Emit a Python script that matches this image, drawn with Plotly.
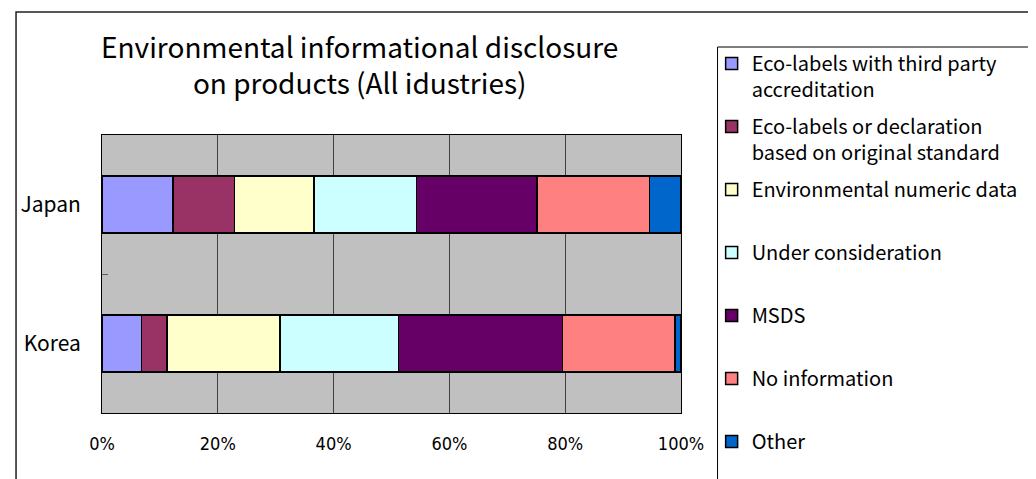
import plotly.graph_objects as go

categories = ["Japan", "Korea"]
series_names = [
    "Eco-labels with third party<br>accreditation",
    "Eco-labels or declaration<br>based on original standard",
    "Environmental numeric data<br>&nbsp;",
    "Under consideration<br>&nbsp;",
    "MSDS<br>&nbsp;",
    "No information<br>&nbsp;",
    "Other<br>&nbsp;",
]
series_values = [
    [12.3, 6.8],
    [10.6, 4.4],
    [13.7, 19.5],
    [17.7, 20.5],
    [20.8, 28.3],
    [19.5, 19.5],
    [5.4, 1.0],
]
series_colors = ["#9999FF", "#993366", "#FFFFCC", "#CCFFFF", "#660066", "#FF8080", "#0066CC"]
tick_vals = [0, 20, 40, 60, 80, 100]
tick_text = ["0%", "20%", "40%", "60%", "80%", "100%"]

OFF = 8  # page body margin
W, H = 1036, 479
L, R, T, B = 95 - OFF, 681 - OFF, 135 - OFF, 413 - OFF  # plot area in figure pixels

def px(x):
    return (x - OFF - L) / (R - L)

def py(y):
    return (B - (y - OFF)) / (B - T)

FONT = "Noto Sans CJK JP"

fig = go.Figure()
for i, (name, vals, col) in enumerate(zip(series_names, series_values, series_colors)):
    fig.add_trace(go.Bar(
        y=categories, x=vals, name=name, orientation="h",
        marker=dict(color=col, line=dict(color="black", width=1.5)),
        width=0.41, legendgroup=f"g{i}",
    ))

fig.update_layout(
    width=W, height=H,
    margin=dict(l=L, r=W - R, t=T, b=H - B),
    barmode="stack",
    plot_bgcolor="#C0C0C0",
    paper_bgcolor="white",
    font=dict(family=FONT, size=20, color="black"),
    showlegend=True,
    legend=dict(
        x=px(712), y=py(55), xanchor="left", yanchor="top",
        traceorder="grouped", tracegroupgap=8, valign="top",
        font=dict(family=FONT, size=20),
        bgcolor="rgba(0,0,0,0)", maxheight=2000,
    ),
    xaxis=dict(
        range=[0, 100], tickvals=tick_vals, ticktext=tick_text,
        showgrid=True, gridcolor="#404040", gridwidth=1,
        showline=True, linecolor="black", linewidth=1, mirror=True,
        ticks="", zeroline=False, ticklabelstandoff=14,
        tickfont=dict(family="DejaVu Sans Condensed, Liberation Sans", size=18),
        fixedrange=True,
    ),
    yaxis=dict(
        categoryorder="array", categoryarray=categories, autorange="reversed",
        showline=True, linecolor="black", linewidth=1, mirror=True,
        ticks="inside", tickson="boundaries", ticklen=6, tickcolor="#606060",
        showgrid=False, ticklabelstandoff=16,
        tickfont=dict(family=FONT, size=21),
    ),
    annotations=[dict(
        text="Environmental informational disclosure<br>on products (All idustries)",
        xref="paper", yref="paper", x=px(356), y=py(64),
        xanchor="center", yanchor="middle", showarrow=False,
        font=dict(family=FONT, size=28, color="black"),
    )],
    shapes=[
        dict(type="rect", xref="paper", yref="paper",
             x0=px(8), x1=px(1050), y0=py(495), y1=py(12),
             line=dict(color="#202020", width=1.5), layer="below"),
        dict(type="rect", xref="paper", yref="paper",
             x0=px(718), x1=px(1050), y0=py(495), y1=py(47),
             line=dict(color="black", width=1), layer="below"),
    ],
)

fig.write_html("out.html")
